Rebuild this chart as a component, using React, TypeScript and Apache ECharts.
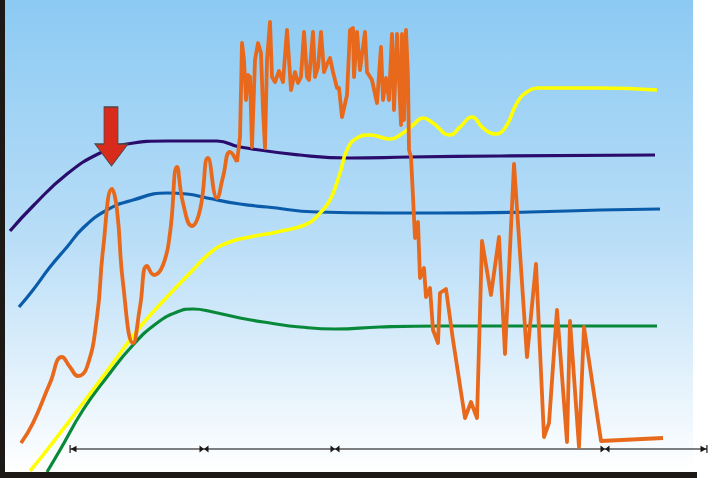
import React, { useEffect, useRef } from "react";
import * as echarts from "echarts";

// Screen-like units: x to the right, y downward (axis inverted)
const purpleLine: [number, number][] = [
  [10, 231], [33, 206], [67, 174], [100, 153], [127, 144], [167, 141], [217, 141],
  [240, 147], [300, 155], [350, 158], [410, 157], [500, 156], [655, 155],
];
const blueLine: [number, number][] = [
  [19, 307], [33, 290], [50, 267], [67, 247], [83, 228], [107, 210], [133, 200],
  [167, 193], [187, 194], [207, 198], [240, 204], [267, 207], [317, 212], [383, 213],
  [440, 213], [530, 212], [600, 210], [660, 209],
];
const greenLine: [number, number][] = [
  [47, 472], [60, 450], [83, 410], [107, 377], [133, 345], [157, 323], [177, 312],
  [193, 309], [213, 312], [240, 318], [270, 323], [300, 327], [335, 329], [380, 327],
  [440, 326], [520, 326], [600, 326], [657, 326],
];
const yellowLine: [number, number][] = [
  [30, 471], [47, 450], [83, 403], [110, 367], [140, 327], [167, 297], [190, 273],
  [210, 253], [227, 243], [250, 237], [277, 232], [307, 224], [320, 213], [330, 200],
  [340, 173], [347, 150], [357, 138], [370, 135], [390, 139], [403, 133], [413, 125],
  [423, 118], [433, 123], [450, 135], [460, 127], [472, 117], [483, 128], [495, 134],
  [505, 128], [517, 103], [527, 92], [540, 88], [600, 88], [657, 90],
];
const orangeSmooth: [number, number][] = [
  [21, 443], [33, 423], [50, 383], [62, 357], [70, 367], [78, 376], [87, 367],
  [97, 317], [103, 250], [112, 189], [117, 210], [123, 283], [133, 343], [140, 307],
  [147, 266], [154, 275], [163, 265], [170, 233], [177, 167], [183, 203], [192, 226],
  [200, 210], [208, 158], [217, 198], [223, 177], [230, 152], [237, 162],
];
const orangeJagged: [number, number][] = [
  [237, 162], [240, 137], [242, 43], [244, 60], [246, 100], [248, 75], [250, 77],
  [252, 147], [255, 60], [258, 43], [261, 53], [263, 110], [265, 148], [267, 60],
  [270, 22], [272, 77], [275, 82], [279, 71], [283, 82], [287, 30], [289, 60],
  [291, 90], [295, 72], [298, 83], [301, 77], [304, 32], [307, 77], [309, 80],
  [313, 32], [315, 77], [318, 67], [321, 32], [324, 72], [327, 64], [330, 58],
  [333, 72], [337, 88], [339, 88], [342, 117], [347, 95], [350, 30], [353, 28],
  [354, 77], [357, 32], [360, 70], [365, 32], [367, 72], [372, 80], [377, 103],
  [381, 47], [383, 100], [386, 78], [389, 100], [392, 34], [394, 110], [397, 34],
  [401, 125], [402, 34], [404, 120], [406, 30], [408, 77], [409, 150], [411, 157],
  [413, 197], [415, 238], [418, 222], [420, 278], [424, 268], [426, 297], [430, 288],
  [433, 330], [438, 343], [440, 293], [446, 289], [453, 340], [465, 418], [471, 402],
  [477, 418], [482, 241], [491, 295], [499, 237], [505, 354], [514, 164], [527, 357],
  [536, 264], [544, 437], [549, 423], [557, 310], [567, 442], [570, 321], [579, 447],
  [584, 327], [601, 441], [663, 438],
];
const stageBounds = [70, 204, 335, 605, 707];
const stageLevel = 449;
const arrowMarker: [number, number][] = [[111.5, 136.5]];

export default function App() {
  const ref = useRef<HTMLDivElement>(null);
  useEffect(() => {
    if (!ref.current) return;
    const chart = echarts.init(ref.current, null, { renderer: "svg" });
    const line = (data: [number, number][], color: string, width: number, smooth: boolean | number) => ({
      type: "line",
      data,
      smooth,
      showSymbol: false,
      symbol: "none",
      lineStyle: { color, width, join: "round" },
      itemStyle: { color },
      silent: true,
    });
    const lastIdx = stageBounds.length - 1;
    chart.setOption({
      animation: false,
      grid: { left: 0, right: 0, top: 0, bottom: 0 },
      xAxis: { type: "value", min: 0, max: 712, show: false },
      yAxis: { type: "value", min: 0, max: 478, inverse: true, show: false },
      graphic: [
        {
          type: "rect",
          z: -10,
          shape: { x: 5, y: 0, width: 688, height: 472 },
          style: {
            fill: new echarts.graphic.LinearGradient(0, 0, 0, 1, [
              { offset: 0, color: "#8ccaf3" },
              { offset: 0.5, color: "#b8ddf7" },
              { offset: 1, color: "#ffffff" },
            ]),
          },
        },
        { type: "rect", z: 50, shape: { x: 0, y: 0, width: 5, height: 478 }, style: { fill: "#1c1916" } },
        { type: "rect", z: 50, shape: { x: 0, y: 472, width: 697, height: 6 }, style: { fill: "#1c1916" } },
      ],
      series: [
        {
          type: "line",
          data: stageBounds.map((x) => [x, stageLevel]),
          lineStyle: { color: "#000", width: 1.2 },
          itemStyle: { color: "#1c1916" },
          silent: true,
          z: 3,
          symbol: (_v: any, p: any) =>
            p.dataIndex === 0
              ? "path://M0,0 L1.5,0 L1.5,10 L0,10 Z M1.5,5 L9,1 L9,9 Z"
              : p.dataIndex === lastIdx
              ? "path://M9,0 L7.5,0 L7.5,10 L9,10 Z M7.5,5 L0,1 L0,9 Z"
              : "path://M0,0 L5,4 L0,8 Z M10,0 L5,4 L10,8 Z",
          symbolSize: (_v: any, p: any) => (p.dataIndex === 0 || p.dataIndex === lastIdx ? [7, 8] : [9, 7]),
          symbolOffset: (_v: any, p: any) =>
            p.dataIndex === 0 ? [3, 0] : p.dataIndex === lastIdx ? [-3, 0] : [0, 0],
          showSymbol: true,
          showAllSymbol: true,
        },
        line(purpleLine, "#2a0c6c", 3.2, true),
        line(blueLine, "#0a5caa", 3.2, true),
        line(greenLine, "#08893a", 3.2, true),
        line(yellowLine, "#ffff00", 3.6, true),
        line(orangeSmooth, "#e8691c", 3.8, true),
        line(orangeJagged, "#e8691c", 3.8, false),
        {
          type: "scatter",
          data: arrowMarker,
          symbol: "path://M9,0 L23,0 L23,37 L33,37 L16.5,59 L0,37 L9,37 Z",
          symbolSize: [33, 59],
          itemStyle: { color: "#d92b1c", borderColor: "#4a4a4a", borderWidth: 1, opacity: 1 },
          silent: true,
          z: 10,
        },
      ],
    });
    return () => chart.dispose();
  }, []);
  return (
    <div
      ref={ref}
      style={{ position: "fixed", left: 0, top: 0, width: 712, height: 478, background: "#ffffff" }}
    />
  );
}
